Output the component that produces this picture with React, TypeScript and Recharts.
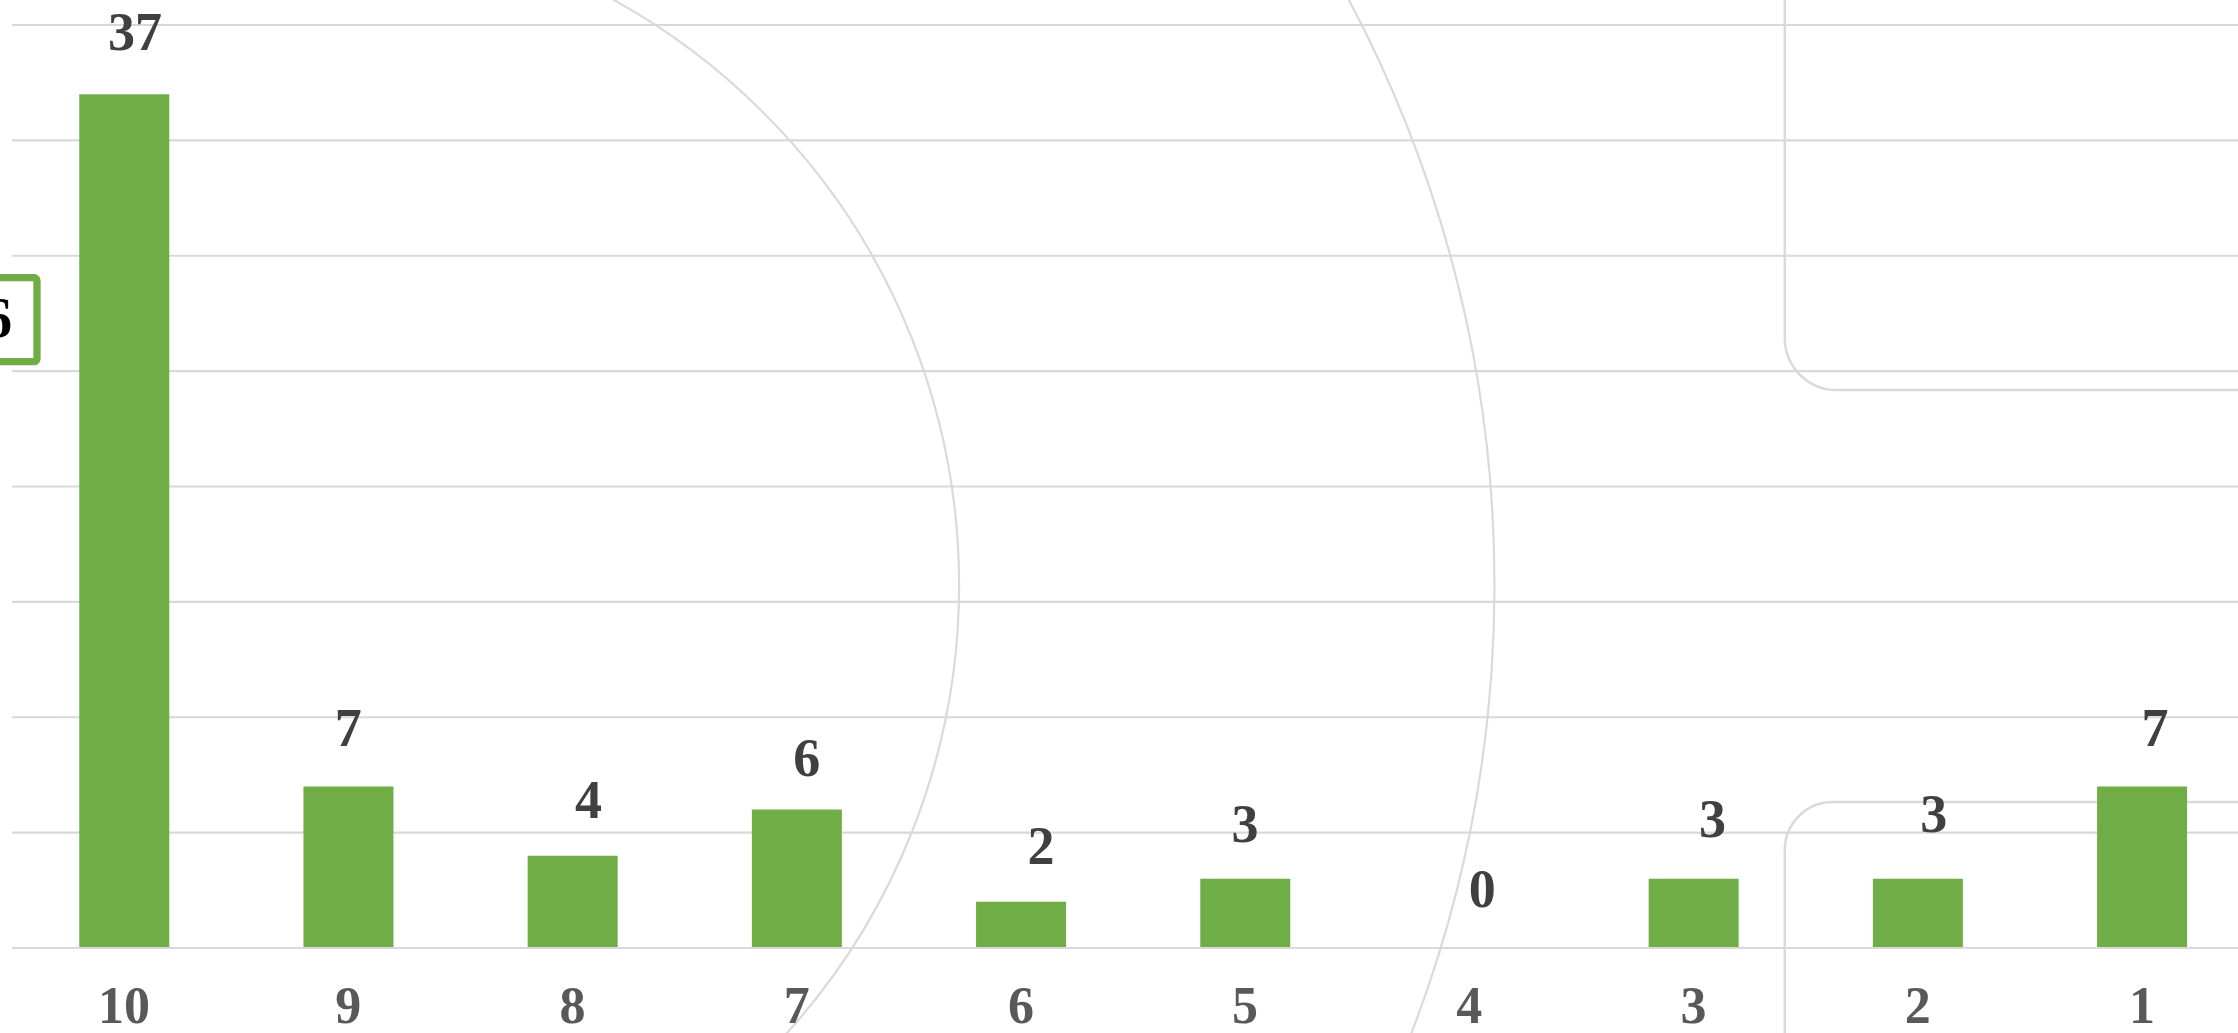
import React from 'react';
import { ComposedChart, Bar, Line, XAxis, YAxis, CartesianGrid, LabelList } from 'recharts';

// ---- data ----
const categories = ['10', '9', '8', '7', '6', '5', '4', '3', '2', '1'];
const counts = [37, 7, 4, 6, 2, 3, 0, 3, 3, 7];
const yTicks = [0, 5, 10, 15, 20, 25, 30, 35, 40];
const calloutText = '6';

// ---- visual tweaks for label placement (px) ----
const LABEL_DX = [11, 0, 16, 10, 20, 0, 13, 19, 16, 13];
const LABEL_GAP = [44, 40, 38, 34, 38, 37, 41, 42, 47, 40];

const data = categories.map((c, i) => ({ score: c, count: counts[i] }));

const FONT = "'Liberation Serif', 'Times New Roman', serif";
const GREEN = '#70AD47';
const GRID = '#D9D9D9';

const VIEW_W = 2238;
const VIEW_H = 1033;
const CHART_W = 2280;

const AxisTick = (props: any) => {
  const { x, y, payload } = props;
  return (
    <text
      x={x}
      y={y + 75}
      textAnchor="middle"
      fontFamily={FONT}
      fontWeight="bold"
      fontSize={52}
      fill="#595959"
    >
      {payload.value}
    </text>
  );
};

const PointLabel = (props: any) => {
  const { x, y, value, index } = props;
  const i = typeof index === 'number' ? index : 0;
  return (
    <text
      x={Number(x) + (LABEL_DX[i] || 0)}
      y={Number(y) - (LABEL_GAP[i] || 40)}
      textAnchor="middle"
      fontFamily={FONT}
      fontWeight="bold"
      fontSize={54}
      fill="#404040"
    >
      {String(value)}
    </text>
  );
};

export default function App() {
  return (
    <div
      style={{
        position: 'fixed',
        left: 0,
        top: 0,
        width: VIEW_W,
        height: VIEW_H,
        overflow: 'hidden',
        background: '#ffffff',
      }}
    >
      {/* background decoration */}
      <svg
        width={VIEW_W}
        height={VIEW_H}
        style={{ position: 'absolute', left: 0, top: 0 }}
      >
        <circle cx={290.7} cy={585.2} r={668.4} fill="none" stroke="#DADADA" strokeWidth={2.2} />
        <circle cx={245.5} cy={585.2} r={1249} fill="none" stroke="#DADADA" strokeWidth={2.2} />
        <path
          d="M 1784.8 -10 L 1784.8 338 A 52 52 0 0 0 1836.8 390 L 2260 390"
          fill="none"
          stroke="#DADADA"
          strokeWidth={2.5}
        />
        <path
          d="M 1784.8 1045 L 1784.8 850 A 48 48 0 0 1 1832.8 802 L 2260 802"
          fill="none"
          stroke="#DADADA"
          strokeWidth={2.5}
        />
      </svg>

      <div style={{ position: 'absolute', left: 0, top: 0 }}>
        <ComposedChart
          width={CHART_W}
          height={VIEW_H}
          data={data}
          margin={{ top: 25, right: CHART_W - 12 - 2242, left: 12, bottom: 0 }}
          barCategoryGap="30%"
        >
          <CartesianGrid vertical={false} stroke={GRID} strokeWidth={2.2} />
          <YAxis hide domain={[0, 40]} ticks={yTicks} interval={0} />
          <XAxis
            dataKey="score"
            height={85}
            interval={0}
            tickLine={false}
            tickSize={0}
            tickMargin={0}
            axisLine={{ stroke: GRID, strokeWidth: 2.2 }}
            tick={<AxisTick />}
          />
          <Bar dataKey="count" fill={GREEN} isAnimationActive={false} />
          <Line
            dataKey="count"
            stroke="none"
            dot={false}
            activeDot={false}
            legendType="none"
            isAnimationActive={false}
          >
            <LabelList dataKey="count" content={<PointLabel />} />
          </Line>
        </ComposedChart>
      </div>

      {/* cropped callout box at left edge */}
      <svg
        width={80}
        height={VIEW_H}
        style={{ position: 'absolute', left: 0, top: 0 }}
      >
        <rect
          x={-60}
          y={277.7}
          width={97}
          height={84}
          rx={3}
          fill="#ffffff"
          stroke={GREEN}
          strokeWidth={7.3}
        />
        <text
          x={12}
          y={337}
          textAnchor="end"
          fontFamily={FONT}
          fontWeight="bold"
          fontSize={56}
          fill="#000000"
        >
          {calloutText}
        </text>
      </svg>
    </div>
  );
}
